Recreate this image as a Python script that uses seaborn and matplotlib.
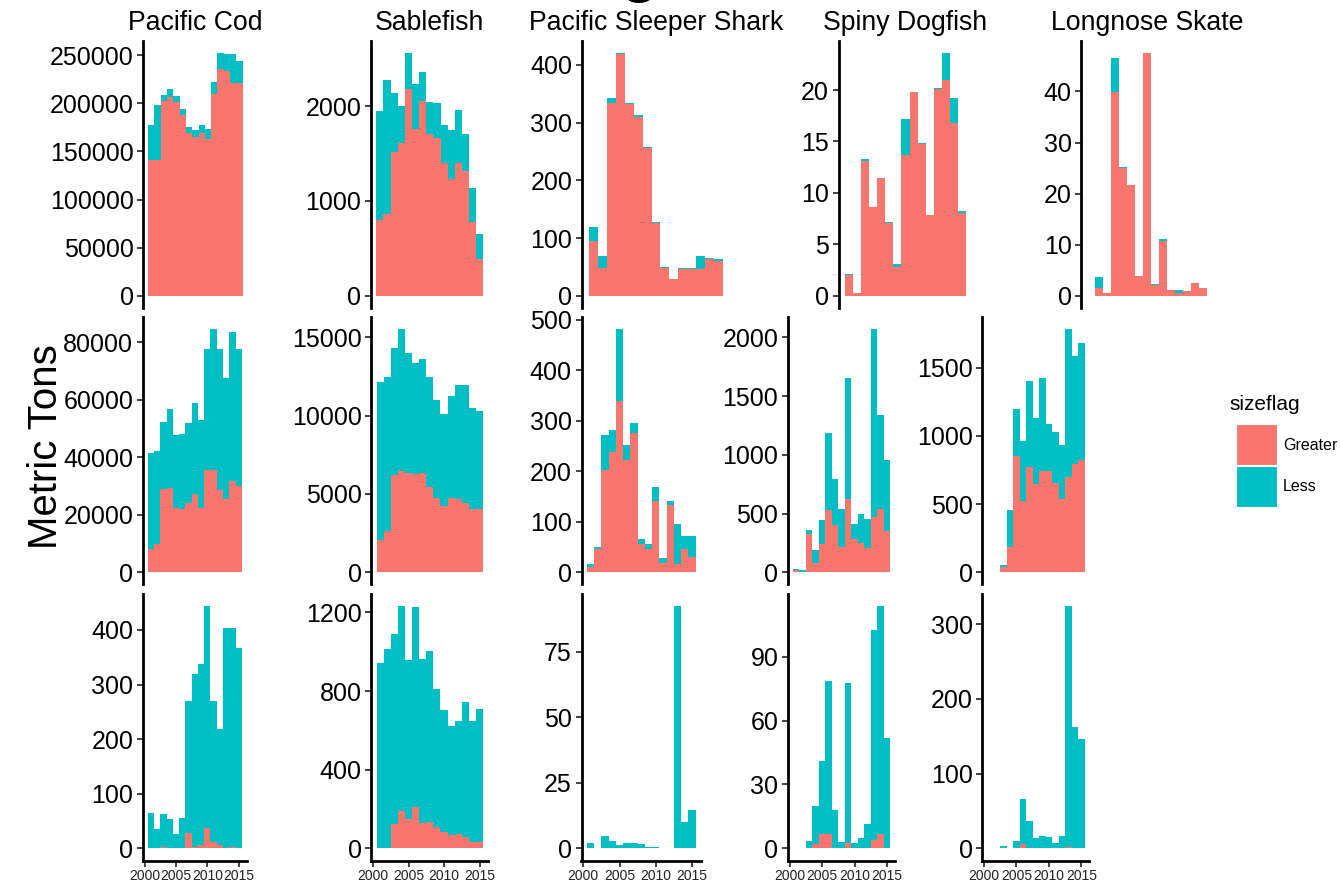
import matplotlib
matplotlib.use("Agg")
import matplotlib.pyplot as plt
from matplotlib.patches import Rectangle
import seaborn as sns

# ---- data: metric tons by year, split by size flag ----
years = list(range(2001, 2016))
species = ["Pacific Cod", "Sablefish", "Pacific Sleeper Shark", "Spiny Dogfish", "Longnose Skate"]
size_levels = ["Greater", "Less"]

# gear group 1
cod_1_greater = [140900, 140900, 202600, 206700, 201500, 187700, 168600, 164500, 169300, 163100, 209500, 235100, 233800, 221300, 221300]
cod_1_less = [36400, 57200, 5900, 7700, 5900, 6600, 7000, 7600, 8000, 10100, 12100, 17400, 17300, 29800, 22500]
sable_1_greater = [798, 858, 1511, 1613, 2176, 1757, 2056, 1701, 1659, 1395, 1230, 1395, 1315, 780, 383]
sable_1_less = [1149, 1416, 623, 387, 386, 471, 306, 345, 369, 405, 517, 563, 386, 359, 267]
shark_1_greater = [95.4, 49, 333.5, 418, 331.8, 310.4, 256, 126.6, 48, 28.3, 46.8, 46.8, 45.7, 63, 60.7]
shark_1_less = [23.1, 20.4, 9.5, 3, 2.9, 2.3, 2.4, 1.7, 2.3, 1.7, 1.8, 1.8, 23.7, 1.7, 2.3]
dogfish_1_greater = [2.0, 0.23, 13.1, 8.65, 11.44, 7.1, 2.82, 13.68, 19.8, 14.75, 7.9, 20.06, 20.97, 16.76, 8.07]
dogfish_1_less = [0.17, 0.09, 0.2, 0, 0, 0.1, 0.26, 3.47, 0, 0.13, 0, 0.1, 2.66, 2.49, 0.2]
skate_1_greater = [0, 1.44, 0.46, 39.9, 25.0, 21.7, 3.86, 47.6, 2.09, 10.8, 1.24, 0.46, 0.92, 2.55, 1.5]
skate_1_less = [0, 2.16, 0.19, 6.6, 0.3, 0, 0, 0, 0.2, 0.25, 0, 0.78, 0, 0, 0]

# gear group 2
cod_2_greater = [8230, 9740, 29090, 29440, 22480, 22020, 23990, 27240, 22480, 35580, 35580, 28630, 25380, 31870, 30130]
cod_2_less = [33140, 32560, 23180, 27240, 25150, 26080, 27810, 31750, 30370, 42190, 48910, 48910, 42070, 51580, 47640]
sable_2_greater = [2064, 2660, 6214, 6469, 6320, 6256, 6320, 5426, 4767, 4235, 4724, 4660, 4405, 4043, 4043]
sable_2_less = [10086, 9810, 8066, 9041, 7700, 7084, 7280, 7044, 6233, 5875, 6536, 7280, 7535, 6427, 6277]
shark_2_greater = [9.9, 45.6, 202.8, 239, 339.5, 222.6, 276.7, 56, 45.6, 141.3, 17.8, 133.4, 15.9, 45.6, 31]
shark_2_less = [6, 3.9, 68.7, 43, 142, 29.7, 18.5, 10, 9.9, 27.1, 9.9, 7.9, 80.5, 25.7, 40.3]
dogfish_2_greater = [17, 0, 327, 77, 239, 531, 403, 213, 622, 284, 253, 205, 469, 540, 355]
dogfish_2_less = [14, 17, 34, 113, 207, 659, 390, 327, 1031, 128, 241, 252, 1602, 801, 602]
skate_2_greater = [0, 0, 37, 183, 855, 525, 774, 647, 745, 745, 652, 537, 696, 794, 823]
skate_2_less = [5, 5, 17, 274, 340, 438, 628, 482, 677, 340, 379, 396, 1085, 787, 860]

# gear group 3
cod_3_greater = [0, 0, 1.8, 0, 0, 1.2, 28.1, 3.1, 6.1, 37.9, 12.2, 6.1, 0, 3.1, 0]
cod_3_less = [65.3, 35.4, 61.1, 53.1, 25.6, 54.4, 242.2, 316.3, 331.1, 406.7, 257.6, 211.9, 404.3, 399.9, 367.6]
sable_3_greater = [0, 0, 122, 190, 148, 212, 127, 132, 107, 85, 68, 71, 56, 31, 31]
sable_3_less = [944, 1014, 966, 1044, 810, 1013, 836, 873, 703, 620, 556, 577, 688, 617, 677]
shark_3_greater = [0.3, 0, 0, 0, 0, 0, 0, 0, 0, 0, 0, 0, 0, 0, 0]
shark_3_less = [1.9, 0, 4.8, 2.8, 1.3, 2.2, 2.2, 1.65, 0.64, 0.64, 0.13, 0.13, 92.5, 9.9, 14.6]
dogfish_3_greater = [0, 0, 0, 2, 6.6, 6.6, 0.3, 0, 2.7, 0, 0, 0, 3.9, 6.6, 0]
dogfish_3_less = [0, 0, 3.4, 18, 34.6, 72.1, 17.7, 3.1, 74.8, 2.7, 4.7, 11.4, 98.6, 107.4, 52]
skate_3_greater = [0, 0, 0, 0, 0, 5.8, 0.9, 0.9, 0, 0.9, 0, 0.9, 2.2, 0, 0]
skate_3_less = [0, 0, 3.6, 0, 9.8, 60.2, 36.1, 12.5, 17, 13.8, 7.6, 16.1, 322.8, 163, 146.4]

# y-axis breaks for each panel
yticks_1 = [[0, 50000, 100000, 150000, 200000, 250000], [0, 1000, 2000], [0, 100, 200, 300, 400], [0, 5, 10, 15, 20], [0, 10, 20, 30, 40]]
yticks_2 = [[0, 20000, 40000, 60000, 80000], [0, 5000, 10000, 15000], [0, 100, 200, 300, 400, 500], [0, 500, 1000, 1500, 2000], [0, 500, 1000, 1500]]
yticks_3 = [[0, 100, 200, 300, 400], [0, 400, 800, 1200], [0, 25, 50, 75], [0, 30, 60, 90], [0, 100, 200, 300]]
xticks = [2000, 2005, 2010, 2015]

GREATER = "#F8766D"
LESS = "#00BFC4"

sns.set_theme(style="ticks")
plt.rcParams["font.family"] = ["Liberation Sans", "DejaVu Sans"]

W, H = 1340, 885
fig = plt.figure(figsize=(W / 100, H / 100), dpi=100)

# panel extents in pixels: (left, right) per column for each row, (top, bottom) per row
cols_1 = [(143.3, 247.4), (371.0, 488.7), (582.0, 730.0), (838.6, 972.4), (1081.3, 1213.4)]
cols_23 = [(143.0, 246.5), (371.3, 488.4), (581.5, 701.0), (788.0, 895.3), (982.3, 1089.5)]
rows = [(40.5, 308.0), (317.0, 584.5), (593.5, 860.5)]

grid = [
    [(cod_1_greater, cod_1_less), (sable_1_greater, sable_1_less), (shark_1_greater, shark_1_less),
     (dogfish_1_greater, dogfish_1_less), (skate_1_greater, skate_1_less)],
    [(cod_2_greater, cod_2_less), (sable_2_greater, sable_2_less), (shark_2_greater, shark_2_less),
     (dogfish_2_greater, dogfish_2_less), (skate_2_greater, skate_2_less)],
    [(cod_3_greater, cod_3_less), (sable_3_greater, sable_3_less), (shark_3_greater, shark_3_less),
     (dogfish_3_greater, dogfish_3_less), (skate_3_greater, skate_3_less)],
]
row_ticks = [yticks_1, yticks_2, yticks_3]


def px_rect(left, right, top, bottom):
    return [left / W, 1 - bottom / H, (right - left) / W, (bottom - top) / H]


for r, (top, bottom) in enumerate(rows):
    cols = cols_1 if r == 0 else cols_23
    for c, (left, right) in enumerate(cols):
        greater, less = grid[r][c]
        total = [g + l for g, l in zip(greater, less)]
        ax = fig.add_axes(px_rect(left, right, top, bottom))
        # stacked bars: the full height in the "Less" colour, "Greater" drawn over its base
        sns.barplot(x=years, y=total, color=LESS, saturation=1, native_scale=True,
                    width=1, errorbar=None, linewidth=0, ax=ax)
        sns.barplot(x=years, y=greater, color=GREATER, saturation=1, native_scale=True,
                    width=1, errorbar=None, linewidth=0, ax=ax)
        m = max(total)
        ax.set_ylim(-0.05 * m, 1.05 * m)
        ax.set_xlim(1999.75, 2016.25)
        ax.set_yticks(row_ticks[r][c])
        ax.set_yticklabels([str(t) for t in row_ticks[r][c]])
        ax.set_xlabel("")
        ax.set_ylabel("")
        for s in ["top", "right"]:
            ax.spines[s].set_visible(False)
        ax.spines["left"].set_linewidth(2.0)
        ax.spines["left"].set_color("black")
        ax.tick_params(axis="y", labelsize=18, length=4.5, width=1.3, color="#333333",
                       pad=2.5, labelcolor="black")
        if r == 2:
            ax.spines["bottom"].set_linewidth(2.0)
            ax.spines["bottom"].set_color("black")
            ax.set_xticks(xticks)
            ax.set_xticklabels([str(t) for t in xticks])
            ax.tick_params(axis="x", labelsize=10, length=4, width=1.3, color="#333333",
                           pad=2, labelcolor="#222222")
        else:
            ax.spines["bottom"].set_visible(False)
            ax.tick_params(axis="x", bottom=False, labelbottom=False)
        ax.grid(False)
        ax.set_facecolor("white")

# species titles centred over the first-row panels
for name, (left, right) in zip(species, cols_1):
    fig.text((left + right) / 2 / W, 1 - 30.5 / H, name, fontsize=19.2, ha="center",
             va="baseline", color="black")

# shared y-axis title
fig.text(46 / W, 1 - 447 / H, "Metric Tons", fontsize=29, rotation=90, ha="center", va="center",
         color="black")

# main heading sits above the visible area; only its descender reaches the figure
fig.text(639 / W, 1 + 10.5 / H, "g", fontsize=44, fontweight="bold", ha="center", va="baseline",
         color="black")

# legend
fig.text(1229 / W, 1 - 405 / H, "sizeflag", fontsize=15, ha="left", va="center", color="black")
key_colors = {"Greater": GREATER, "Less": LESS}
for i, lvl in enumerate(size_levels):
    ky = 424 + i * 42
    fig.add_artist(Rectangle((1236 / W, 1 - (ky + 41) / H), 41 / W, 41 / H,
                             transform=fig.transFigure, facecolor=key_colors[lvl],
                             edgecolor="white", linewidth=0.8))
    fig.text(1283 / W, 1 - (ky + 21) / H, lvl, fontsize=11.5, ha="left", va="center", color="black")

fig.savefig("out.png", dpi=100, facecolor="white")
